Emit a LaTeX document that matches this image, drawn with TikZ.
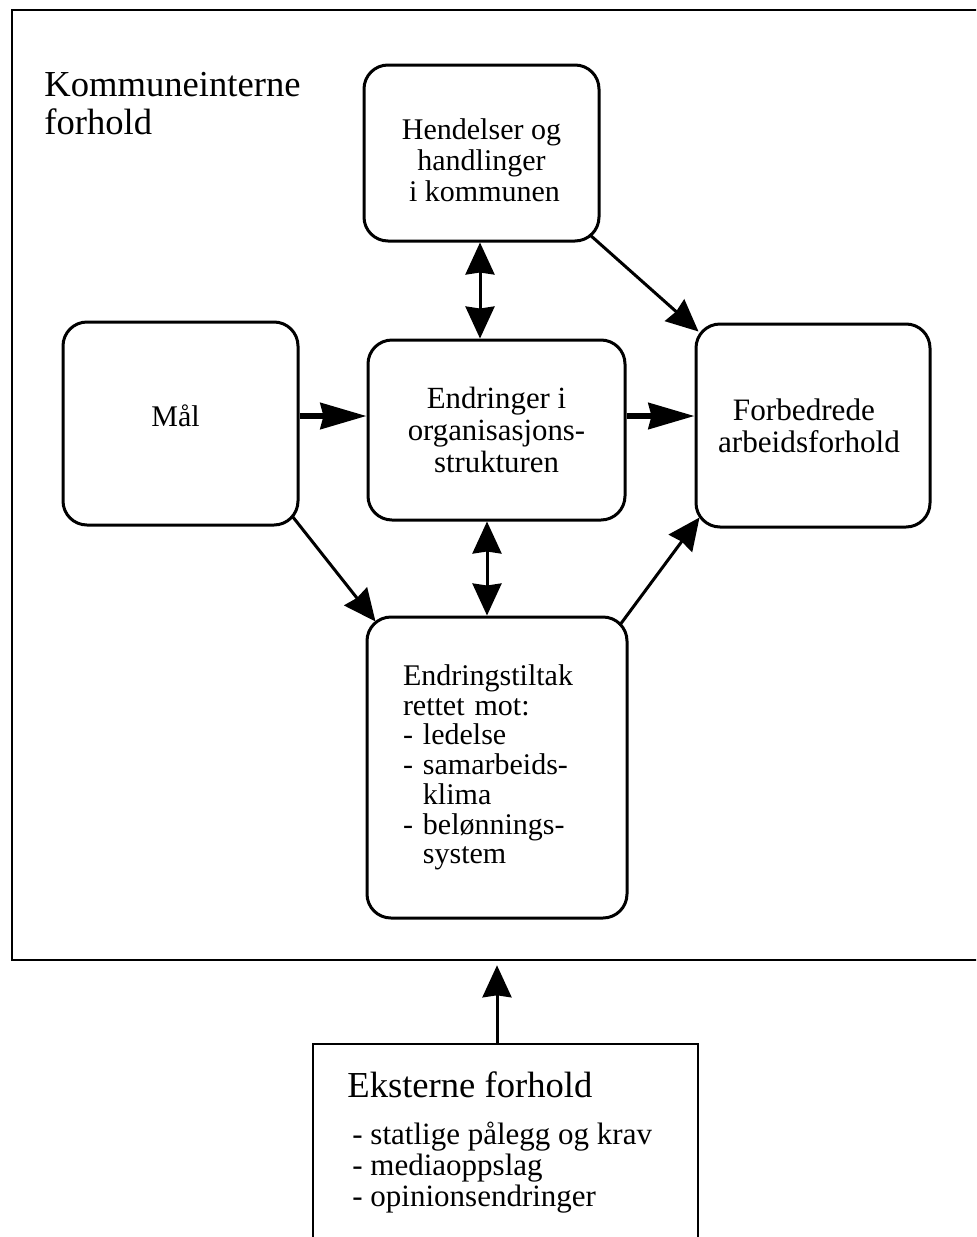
\documentclass[tikz,border=0pt]{standalone}
\usepackage{fontspec}
\setmainfont{Liberation Serif}
\usetikzlibrary{arrows.meta,calc}
\begin{document}
\begin{tikzpicture}[x=0.5pt,y=-0.5pt,
  box/.style={draw,line width=1.5pt,rounded corners=12pt,align=center,inner sep=0pt,
    font=\fontsize{15pt}{15.5pt}\selectfont},
  vtip/.style={-{Stealth[length=16pt,width=14.5pt,inset=1pt]}},
  dbl/.style={{Stealth[length=16pt,width=14.5pt,inset=1pt]}-{Stealth[length=16pt,width=14.5pt,inset=1pt]}},
  htip/.style={-{Stealth[length=23pt,width=13pt,inset=1.5pt]}},
  conn/.style={line width=1.5pt},
  thick conn/.style={line width=2.8pt},
  heading/.style={inner sep=0pt,align=left,font=\fontsize{18.3pt}{19pt}\selectfont},
  listtext/.style={inner sep=0pt,align=left,font=\fontsize{15.5pt}{15.5pt}\selectfont}
]
\clip (0,0) rectangle (976,1237);
\fill[white] (0,0) rectangle (976,1237);

% outer frame (right side continues beyond the page)
\node[draw,line width=1.3pt,minimum width=499pt,minimum height=475pt,inner sep=0pt] (outer) at (511,485) {};
\node[heading,anchor=north west] (komm) at (44,72) {Kommuneinterne\\forhold};

% boxes
\node[box,minimum width=117.5pt,minimum height=88pt] (hend) at (481.5,153)
  {\rule{0pt}{17.5pt}Hendelser og\\handlinger\\\hspace*{3pt}i kommunen};
\node[box,minimum width=117.5pt,minimum height=101.5pt] (mal) at (180.5,423.5)
  {Mål\hspace*{5pt}\rule[-8pt]{0pt}{8pt}};
\node[box,minimum width=128.5pt,minimum height=90pt,font=\fontsize{15.4pt}{16pt}\selectfont] (endr) at (496.5,430)
  {Endringer i\\organisasjons-\\strukturen};
\node[box,minimum width=117pt,minimum height=101.5pt,font=\fontsize{15.6pt}{16pt}\selectfont] (forb) at (813,425.5)
  {Forbedrede\hspace*{9pt}\\arbeidsforhold\hspace*{4pt}};
\node[box,align=left,text width=94pt,inner xsep=18pt,minimum height=150.5pt,
  font=\fontsize{15pt}{14.85pt}\selectfont] (tilt) at (497,767.5)
  {Endringstiltak\\rettet mot:\\- ledelse\\- samarbeids-\\\phantom{- }klima\\- belønnings-\\\phantom{- }system\\[2pt]};

% external box (bottom continues beyond the page)
\node[draw,line width=1.2pt,minimum width=192.5pt,minimum height=128pt,inner sep=0pt] (ext) at (505.5,1172) {};
\node[heading,anchor=base west] (extT) at (347,1097) {Eksterne forhold};
\node[listtext,anchor=north west] (extL) at (352,1122) {- statlige pålegg og krav\\- mediaoppslag\\- opinionsendringer};

% connectors
\draw[conn,dbl] ($(hend.south)+(-1.5,0)$) -- ($(endr.north)+(-16.5,0)$);
\draw[conn,dbl] ($(endr.south)+(-9.5,0)$) -- ($(tilt.north)+(-10,0)$);
\draw[thick conn,htip] ($(mal.east)+(0,-7.5)$) -- ($(endr.west)+(0,-14)$);
\draw[thick conn,htip] ($(endr.east)+(0,-14)$) -- ($(forb.west)+(0,-9.5)$);
\draw[conn,vtip] ($(hend.south east)+(-11,-8)$) -- ($(forb.north west)+(4,9)$);
\draw[conn,vtip] ($(mal.south east)+(-7,-10)$) -- ($(tilt.north west)+(10,6)$);
\draw[conn,vtip] ($(tilt.north east)+(-9,10)$) -- ($(forb.south west)+(5,-11)$);
\draw[conn,vtip] ($(ext.north)+(-8.5,0)$) -- ($(outer.south)+(-14,4)$);
\end{tikzpicture}
\end{document}
